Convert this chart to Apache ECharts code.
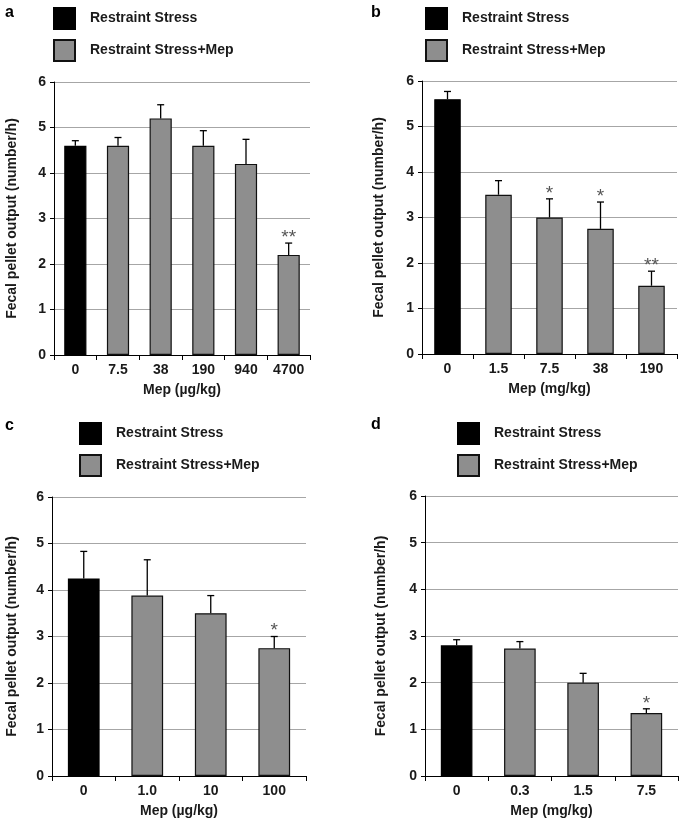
<!DOCTYPE html>
<html><head><meta charset="utf-8">
<script src="https://cdn.jsdelivr.net/npm/echarts@6/dist/echarts.min.js"></script>
<style>html,body{margin:0;padding:0;background:#fff}#c{width:685px;height:823px}</style>
</head><body><div id="c"></div>
<script>
// Panel a
const catsA = ['0','7.5','38','190','940','4700'];
const meanA = [4.6, 4.6, 5.2, 4.6, 4.2, 2.2];
const semA  = [0.11, 0.18, 0.3, 0.33, 0.54, 0.26];
const sigA  = ['', '', '', '', '', '**'];
// Panel b
const catsB = ['0','1.5','7.5','38','190'];
const meanB = [5.6, 3.5, 3.0, 2.75, 1.5];
const semB  = [0.17, 0.31, 0.41, 0.59, 0.32];
const sigB  = ['', '', '*', '*', '**'];
// Panel c
const catsC = ['0','1.0','10','100'];
const meanC = [4.25, 3.88, 3.5, 2.75];
const semC  = [0.58, 0.77, 0.38, 0.25];
const sigC  = ['', '', '', '*'];
// Panel d
const catsD = ['0','0.3','1.5','7.5'];
const meanD = [2.8, 2.73, 2.0, 1.35];
const semD  = [0.12, 0.15, 0.2, 0.09];
const sigD  = ['', '', '', '*'];

const yTicks = [0,1,2,3,4,5,6];
const seriesNames = ['Restraint Stress', 'Restraint Stress+Mep'];
const letters = ['a','b','c','d'];
const xTitles = ['Mep (µg/kg)', 'Mep (mg/kg)', 'Mep (µg/kg)', 'Mep (mg/kg)'];
const yTitle = 'Fecal pellet output (number/h)';

const FONT = '"Liberation Sans", Arial, Helvetica, sans-serif';
const panels = [
  {cats: catsA, mean: meanA, sem: semA, sig: sigA, grid: {left: 54, top: 82, width: 256, height: 273}, bw: '52%', legend: {left: 53, top: 7}, letter: [5, 5], nameGapY: 35},
  {cats: catsB, mean: meanB, sem: semB, sig: sigB, grid: {left: 422, top: 81, width: 255, height: 273}, bw: '52%', legend: {left: 425, top: 7}, letter: [371, 5], nameGapY: 36},
  {cats: catsC, mean: meanC, sem: semC, sig: sigC, grid: {left: 52, top: 497, width: 254, height: 279}, bw: '50%', legend: {left: 79, top: 422}, letter: [5, 418], nameGapY: 33},
  {cats: catsD, mean: meanD, sem: semD, sig: sigD, grid: {left: 425, top: 496, width: 253, height: 280}, bw: '50%', legend: {left: 457, top: 422}, letter: [371, 417], nameGapY: 37}
];

const grids = [], xAxes = [], yAxes = [], series = [], legends = [], graphics = [];
panels.forEach((p, k) => {
  grids.push(Object.assign({containLabel: false}, p.grid));
  xAxes.push({
    type: 'category', gridIndex: k, data: p.cats,
    axisLine: {lineStyle: {color: '#000', width: 1}},
    axisTick: {show: true, length: 5, lineStyle: {color: '#000'}},
    axisLabel: {color: '#1a1a1a', fontFamily: FONT, fontWeight: 'bold', fontSize: 14, margin: 8},
    name: xTitles[k], nameLocation: 'middle', nameGap: 28,
    nameTextStyle: {color: '#1a1a1a', fontFamily: FONT, fontWeight: 'bold', fontSize: 14}
  });
  yAxes.push({
    type: 'value', gridIndex: k, min: 0, max: 6, interval: 1,
    axisLine: {show: true, lineStyle: {color: '#000', width: 1}},
    axisTick: {show: true, length: 4, lineStyle: {color: '#000'}},
    axisLabel: {color: '#1a1a1a', fontFamily: FONT, fontWeight: 'bold', fontSize: 14, margin: 8,
      formatter: v => yTicks.includes(v) ? String(v) : ''},
    splitLine: {show: true, lineStyle: {color: '#a6a6a6', width: 1}},
    name: yTitle, nameLocation: 'middle', nameGap: p.nameGapY,
    nameTextStyle: {color: '#1a1a1a', fontFamily: FONT, fontWeight: 'bold', fontSize: 14}
  });
  const ctrl = p.mean.map((v, i) => i === 0 ? v : '-');
  const drug = p.mean.map((v, i) => i === 0 ? '-' : v);
  series.push({
    type: 'bar', name: seriesNames[0], xAxisIndex: k, yAxisIndex: k, data: ctrl,
    barWidth: p.bw, barGap: '-100%',
    itemStyle: {color: '#000', borderColor: '#000', borderWidth: 1.2}, animation: false
  });
  series.push({
    type: 'bar', name: seriesNames[1], xAxisIndex: k, yAxisIndex: k, data: drug,
    barWidth: p.bw, barGap: '-100%',
    itemStyle: {color: '#8e8e8e', borderColor: '#111', borderWidth: 1.2}, animation: false
  });
  series.push({
    type: 'custom', xAxisIndex: k, yAxisIndex: k, z: 5, animation: false,
    data: p.mean.map((v, i) => [i, v, v + p.sem[i]]),
    renderItem: function (params, api) {
      const i = api.value(0);
      const b = api.coord([i, api.value(1)]);
      const t = api.coord([i, api.value(2)]);
      const children = [
        {type: 'line', shape: {x1: b[0], y1: b[1], x2: t[0], y2: t[1]}, style: {stroke: '#000', lineWidth: 1.3}},
        {type: 'line', shape: {x1: t[0] - 3.5, y1: t[1], x2: t[0] + 3.5, y2: t[1]}, style: {stroke: '#000', lineWidth: 1.3}}
      ];
      const s = p.sig[params.dataIndex];
      if (s) {
        children.push({type: 'text', style: {text: s, x: t[0], y: t[1] + 4, align: 'center', verticalAlign: 'bottom',
          fill: '#555', font: 'normal 19px ' + FONT}});
      }
      return {type: 'group', children: children};
    }
  });
  legends.push({
    left: p.legend.left, top: p.legend.top, orient: 'vertical',
    itemWidth: 21, itemHeight: 21, itemGap: 9, padding: 0, icon: 'rect',
    selectedMode: false, data: seriesNames,
    textStyle: {color: '#1a1a1a', fontFamily: FONT, fontWeight: 'bold', fontSize: 14, padding: [0, 0, 0, 10]}
  });
  graphics.push({type: 'text', left: p.letter[0], top: p.letter[1],
    style: {text: letters[k], font: 'bold 16px ' + FONT, fill: '#000'}});
});

const chart = echarts.init(document.getElementById('c'), null, {renderer: 'canvas'});
chart.setOption({
  animation: false,
  backgroundColor: '#fff',
  grid: grids, xAxis: xAxes, yAxis: yAxes, series: series, legend: legends, graphic: graphics
});
</script></body></html>
